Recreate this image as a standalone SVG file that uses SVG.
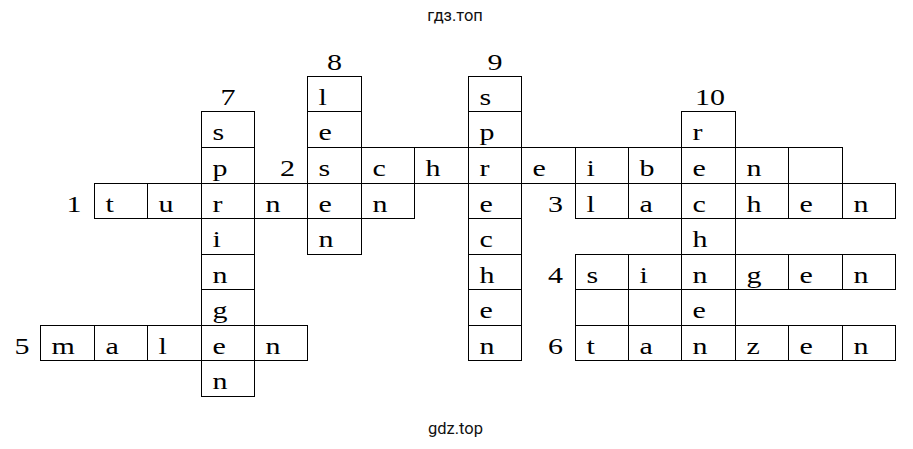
<svg xmlns="http://www.w3.org/2000/svg" width="913" height="449" viewBox="0 0 913 449">
<style>
.c{fill:none;stroke:#000;stroke-width:1}
.r{text-anchor:end}
.m{text-anchor:middle}
.w{font-family:Roboto,"Liberation Sans",Arial,sans-serif;font-size:16.5px;fill:#111;text-anchor:middle}
</style>
<rect width="913" height="449" fill="#fff"/>
<text class="w" x="455" y="20.5">гдз.топ</text>
<text class="w" x="455.5" y="434">gdz.top</text>

<g font-family="'Liberation Serif', 'Times New Roman', serif" font-size="24" fill="#000">
<g id="w1-turnen">
<rect class="c" x="94.5" y="183.5" width="53" height="35"/>
<rect class="c" x="147.5" y="183.5" width="54" height="35"/>
<rect class="c" x="201.5" y="183.5" width="53" height="35"/>
<rect class="c" x="254.5" y="183.5" width="53" height="35"/>
<rect class="c" x="307.5" y="183.5" width="54" height="35"/>
<rect class="c" x="361.5" y="183.5" width="53" height="35"/>
<g transform="scale(1.25 1)">
<text class="r" x="65.2" y="212.5">1</text>
<text x="84.4" y="212.5">t</text>
<text x="126.8" y="212.5">u</text>
<text x="170" y="212.5">r</text>
<text x="212.4" y="212.5">n</text>
<text x="254.8" y="212.5">e</text>
<text x="298" y="212.5">n</text>
</g>
</g>

<g id="w2-schreiben">
<rect class="c" x="307.5" y="147.5" width="54" height="36"/>
<rect class="c" x="361.5" y="147.5" width="53" height="36"/>
<rect class="c" x="414.5" y="147.5" width="54" height="36"/>
<rect class="c" x="468.5" y="147.5" width="53" height="36"/>
<rect class="c" x="521.5" y="147.5" width="54" height="36"/>
<rect class="c" x="575.5" y="147.5" width="53" height="36"/>
<rect class="c" x="628.5" y="147.5" width="53" height="36"/>
<rect class="c" x="681.5" y="147.5" width="54" height="36"/>
<rect class="c" x="735.5" y="147.5" width="53" height="36"/>
<rect class="c" x="788.5" y="147.5" width="54" height="36"/>
<g transform="scale(1.25 1)">
<text class="r" x="236" y="176.5">2</text>
<text x="254.8" y="176.5">s</text>
<text x="298" y="176.5">c</text>
<text x="340.4" y="176.5">h</text>
<text x="383.6" y="176.5">r</text>
<text x="426" y="176.5">e</text>
<text x="469.2" y="176.5">i</text>
<text x="511.6" y="176.5">b</text>
<text x="554" y="176.5">e</text>
<text x="597.2" y="176.5">n</text>
</g>
</g>

<g id="w3-lachen">
<rect class="c" x="575.5" y="183.5" width="53" height="35"/>
<rect class="c" x="628.5" y="183.5" width="53" height="35"/>
<rect class="c" x="681.5" y="183.5" width="54" height="35"/>
<rect class="c" x="735.5" y="183.5" width="53" height="35"/>
<rect class="c" x="788.5" y="183.5" width="54" height="35"/>
<rect class="c" x="842.5" y="183.5" width="53" height="35"/>
<g transform="scale(1.25 1)">
<text class="r" x="450.4" y="212.5">3</text>
<text x="469.2" y="212.5">l</text>
<text x="511.6" y="212.5">a</text>
<text x="554" y="212.5">c</text>
<text x="597.2" y="212.5">h</text>
<text x="639.6" y="212.5">e</text>
<text x="682.8" y="212.5">n</text>
</g>
</g>

<g id="w4-singen">
<rect class="c" x="575.5" y="254.5" width="53" height="35"/>
<rect class="c" x="628.5" y="254.5" width="53" height="35"/>
<rect class="c" x="681.5" y="254.5" width="54" height="35"/>
<rect class="c" x="735.5" y="254.5" width="53" height="35"/>
<rect class="c" x="788.5" y="254.5" width="54" height="35"/>
<rect class="c" x="842.5" y="254.5" width="53" height="35"/>
<g transform="scale(1.25 1)">
<text class="r" x="450.4" y="283.5">4</text>
<text x="469.2" y="283.5">s</text>
<text x="511.6" y="283.5">i</text>
<text x="554" y="283.5">n</text>
<text x="597.2" y="283.5">g</text>
<text x="639.6" y="283.5">e</text>
<text x="682.8" y="283.5">n</text>
</g>
</g>

<g id="w5-malen">
<rect class="c" x="40.5" y="325.5" width="54" height="35"/>
<rect class="c" x="94.5" y="325.5" width="53" height="35"/>
<rect class="c" x="147.5" y="325.5" width="54" height="35"/>
<rect class="c" x="201.5" y="325.5" width="53" height="35"/>
<rect class="c" x="254.5" y="325.5" width="53" height="35"/>
<g transform="scale(1.25 1)">
<text class="r" x="23.6" y="354.5">5</text>
<text x="41.2" y="354.5">m</text>
<text x="84.4" y="354.5">a</text>
<text x="126.8" y="354.5">l</text>
<text x="170" y="354.5">e</text>
<text x="212.4" y="354.5">n</text>
</g>
</g>

<g id="w6-tanzen">
<rect class="c" x="575.5" y="325.5" width="53" height="35"/>
<rect class="c" x="628.5" y="325.5" width="53" height="35"/>
<rect class="c" x="681.5" y="325.5" width="54" height="35"/>
<rect class="c" x="735.5" y="325.5" width="53" height="35"/>
<rect class="c" x="788.5" y="325.5" width="54" height="35"/>
<rect class="c" x="842.5" y="325.5" width="53" height="35"/>
<g transform="scale(1.25 1)">
<text class="r" x="450.4" y="354.5">6</text>
<text x="469.2" y="354.5">t</text>
<text x="511.6" y="354.5">a</text>
<text x="554" y="354.5">n</text>
<text x="597.2" y="354.5">z</text>
<text x="639.6" y="354.5">e</text>
<text x="682.8" y="354.5">n</text>
</g>
</g>

<g id="w7-springen">
<rect class="c" x="201.5" y="111.5" width="53" height="36"/>
<rect class="c" x="201.5" y="147.5" width="53" height="36"/>
<rect class="c" x="201.5" y="218.5" width="53" height="36"/>
<rect class="c" x="201.5" y="254.5" width="53" height="35"/>
<rect class="c" x="201.5" y="289.5" width="53" height="36"/>
<rect class="c" x="201.5" y="360.5" width="53" height="36"/>
<g transform="scale(1.25 1)">
<text class="m" x="182.4" y="105.5">7</text>
<text x="170" y="140.5">s</text>
<text x="170" y="176.5">p</text>
<text x="170" y="247.5">i</text>
<text x="170" y="283.5">n</text>
<text x="170" y="318.5">g</text>
<text x="170" y="389.5">n</text>
</g>
</g>

<g id="w8-lesen">
<rect class="c" x="307.5" y="76.5" width="54" height="35"/>
<rect class="c" x="307.5" y="111.5" width="54" height="36"/>
<rect class="c" x="307.5" y="218.5" width="54" height="36"/>
<g transform="scale(1.25 1)">
<text class="m" x="267.6" y="70">8</text>
<text x="254.8" y="105.5">l</text>
<text x="254.8" y="140.5">e</text>
<text x="254.8" y="247.5">n</text>
</g>
</g>

<g id="w9-sprechen">
<rect class="c" x="468.5" y="76.5" width="53" height="35"/>
<rect class="c" x="468.5" y="111.5" width="53" height="36"/>
<rect class="c" x="468.5" y="183.5" width="53" height="35"/>
<rect class="c" x="468.5" y="218.5" width="53" height="36"/>
<rect class="c" x="468.5" y="254.5" width="53" height="35"/>
<rect class="c" x="468.5" y="289.5" width="53" height="36"/>
<rect class="c" x="468.5" y="325.5" width="53" height="35"/>
<g transform="scale(1.25 1)">
<text class="m" x="396" y="70">9</text>
<text x="383.6" y="105.5">s</text>
<text x="383.6" y="140.5">p</text>
<text x="383.6" y="212.5">e</text>
<text x="383.6" y="247.5">c</text>
<text x="383.6" y="283.5">h</text>
<text x="383.6" y="318.5">e</text>
<text x="383.6" y="354.5">n</text>
</g>
</g>

<g id="w10-rechnen">
<rect class="c" x="681.5" y="111.5" width="54" height="36"/>
<rect class="c" x="681.5" y="218.5" width="54" height="36"/>
<rect class="c" x="681.5" y="289.5" width="54" height="36"/>
<g transform="scale(1.25 1)">
<text class="m" x="568" y="105.5">10</text>
<text x="554" y="140.5">r</text>
<text x="554" y="247.5">h</text>
<text x="554" y="318.5">e</text>
</g>
</g>

<g id="blank-cells">
<rect class="c" x="575.5" y="289.5" width="53" height="36"/>
<rect class="c" x="628.5" y="289.5" width="53" height="36"/>
</g>
</g>
</svg>
